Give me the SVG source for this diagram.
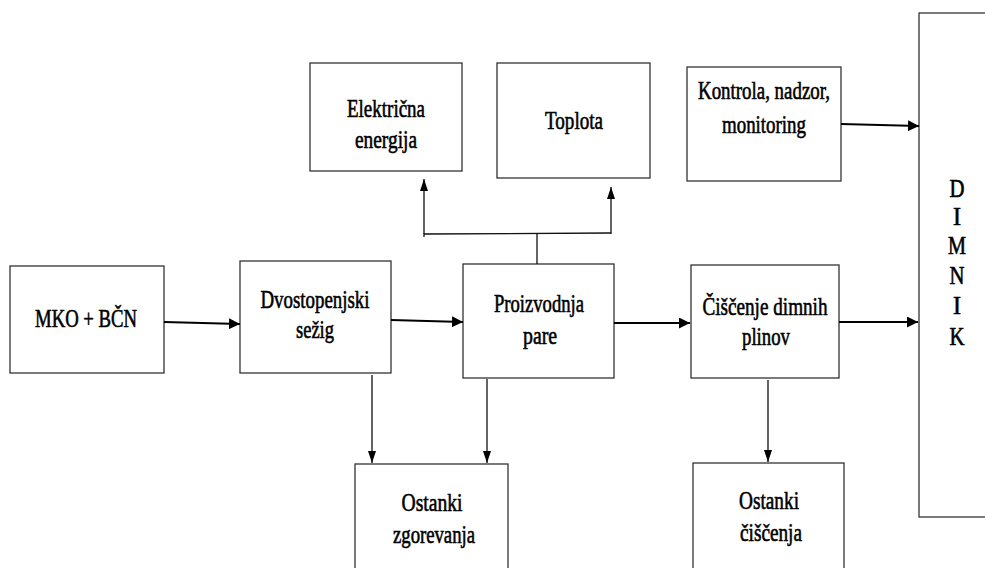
<svg xmlns="http://www.w3.org/2000/svg" width="985" height="568" viewBox="0 0 985 568">
<style>
.box{fill:#fff;stroke:#333;stroke-width:1.3}
.t{font-family:'Liberation Serif','Times New Roman',serif;font-size:25px;fill:#000;stroke:#000;stroke-width:0.6;text-anchor:middle}
.thick{stroke:#000;stroke-width:2;fill:none}
.thin{stroke:#111;stroke-width:1.3;fill:none}
</style>
<defs>
<marker id="ah" markerUnits="userSpaceOnUse" markerWidth="11" markerHeight="11" viewBox="0 0 11 11" refX="11" refY="5.5" orient="auto">
<path d="M0,0 L11,5.5 L0,11 Z" fill="#000"/>
</marker>
<marker id="av" markerUnits="userSpaceOnUse" markerWidth="12" markerHeight="8" viewBox="0 0 12 8" refX="12" refY="4" orient="auto">
<path d="M0,0 L12,4 L0,8 Z" fill="#000"/>
</marker>
</defs>
<rect width="985" height="568" fill="#fff"/>
<g id="mko">
<rect class="box" x="10" y="266" width="154" height="107"/>
<text class="t" x="86" y="327" textLength="102" lengthAdjust="spacingAndGlyphs">MKO + BČN</text>
</g>
<g id="dvostopenjski">
<rect class="box" x="240" y="261" width="151" height="112"/>
<text class="t" x="315" y="308" textLength="109" lengthAdjust="spacingAndGlyphs">Dvostopenjski</text>
<text class="t" x="315" y="338" textLength="38" lengthAdjust="spacingAndGlyphs">sežig</text>
</g>
<g id="proizvodnja">
<rect class="box" x="463" y="264" width="151" height="114"/>
<text class="t" x="539" y="312" textLength="90" lengthAdjust="spacingAndGlyphs">Proizvodnja</text>
<text class="t" x="540" y="344" textLength="34" lengthAdjust="spacingAndGlyphs">pare</text>
</g>
<g id="ciscenje">
<rect class="box" x="691" y="265" width="148" height="113"/>
<text class="t" x="765" y="315" textLength="125" lengthAdjust="spacingAndGlyphs">Čiščenje dimnih</text>
<text class="t" x="766" y="345" textLength="48" lengthAdjust="spacingAndGlyphs">plinov</text>
</g>
<g id="elektricna">
<rect class="box" x="310" y="63" width="152" height="108"/>
<text class="t" x="386" y="117" textLength="78" lengthAdjust="spacingAndGlyphs">Električna</text>
<text class="t" x="386" y="148" textLength="62" lengthAdjust="spacingAndGlyphs">energija</text>
</g>
<g id="toplota">
<rect class="box" x="497" y="63" width="153" height="115"/>
<text class="t" x="574" y="129" textLength="58" lengthAdjust="spacingAndGlyphs">Toplota</text>
</g>
<g id="kontrola">
<rect class="box" x="687" y="67" width="154" height="114"/>
<text class="t" x="764" y="99" textLength="132" lengthAdjust="spacingAndGlyphs">Kontrola, nadzor,</text>
<text class="t" x="764" y="133" textLength="84" lengthAdjust="spacingAndGlyphs">monitoring</text>
</g>
<g id="dimnik">
<rect class="box" x="919" y="13" width="90" height="504"/>
<text class="t" x="957" y="197" textLength="15" lengthAdjust="spacingAndGlyphs">D</text>
<text class="t" x="957" y="225" textLength="8" lengthAdjust="spacingAndGlyphs">I</text>
<text class="t" x="957" y="254" textLength="18" lengthAdjust="spacingAndGlyphs">M</text>
<text class="t" x="957" y="284" textLength="15" lengthAdjust="spacingAndGlyphs">N</text>
<text class="t" x="957" y="314" textLength="8" lengthAdjust="spacingAndGlyphs">I</text>
<text class="t" x="957" y="345" textLength="15" lengthAdjust="spacingAndGlyphs">K</text>
</g>
<g id="ostanki-zgorevanja">
<rect class="box" x="355" y="464" width="153" height="120"/>
<text class="t" x="432" y="511" textLength="61" lengthAdjust="spacingAndGlyphs">Ostanki</text>
<text class="t" x="434" y="543" textLength="82" lengthAdjust="spacingAndGlyphs">zgorevanja</text>
</g>
<g id="ostanki-ciscenja">
<rect class="box" x="693" y="463" width="151" height="120"/>
<text class="t" x="769" y="509" textLength="60" lengthAdjust="spacingAndGlyphs">Ostanki</text>
<text class="t" x="771" y="541" textLength="62" lengthAdjust="spacingAndGlyphs">čiščenja</text>
</g>
<g id="connectors">
<line class="thick" x1="164" y1="322" x2="240" y2="324" marker-end="url(#ah)"/>
<line class="thick" x1="391" y1="320" x2="463" y2="322" marker-end="url(#ah)"/>
<line class="thick" x1="614" y1="323" x2="690" y2="323" marker-end="url(#ah)"/>
<line class="thick" x1="839" y1="322" x2="918" y2="322" marker-end="url(#ah)"/>
<line class="thick" x1="841" y1="124" x2="919" y2="126" marker-end="url(#ah)"/>
<line class="thin" x1="537" y1="264" x2="537" y2="233"/>
<polyline class="thin" points="424,237 424,234 611,233"/>
<line class="thin" x1="424" y1="234" x2="424" y2="179" marker-end="url(#av)"/>
<line class="thin" x1="611" y1="234" x2="611" y2="187" marker-end="url(#av)"/>
<line class="thin" x1="372" y1="375" x2="372" y2="463" marker-end="url(#av)"/>
<line class="thin" x1="487" y1="379" x2="487" y2="463" marker-end="url(#av)"/>
<line class="thin" x1="768" y1="380" x2="768" y2="462" marker-end="url(#av)"/>
</g>
</svg>
